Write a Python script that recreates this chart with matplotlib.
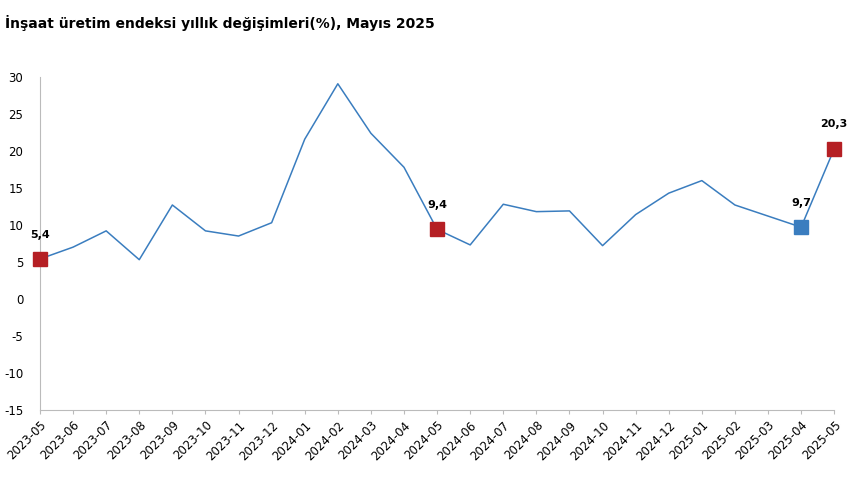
import matplotlib
matplotlib.use("Agg")
import matplotlib.pyplot as plt
plt.rcParams["axes.unicode_minus"] = False

months = ["2023-05","2023-06","2023-07","2023-08","2023-09","2023-10","2023-11","2023-12",
          "2024-01","2024-02","2024-03","2024-04","2024-05","2024-06","2024-07","2024-08",
          "2024-09","2024-10","2024-11","2024-12","2025-01","2025-02","2025-03","2025-04","2025-05"]
values = [5.4,7.0,9.2,5.3,12.7,9.2,8.5,10.3,21.6,29.1,22.4,17.8,9.4,7.3,12.8,11.8,
          11.9,7.2,11.4,14.3,16.0,12.7,11.2,9.7,20.3]
highlight = {"2023-05":"#b51f24","2024-05":"#b51f24","2025-04":"#3a7dbf","2025-05":"#b51f24"}
yticks = [-15,-10,-5,0,5,10,15,20,25,30]

fig = plt.figure(figsize=(8.6,5.04), dpi=100)
ax = fig.add_axes([0.0465,0.187,0.9235,0.66])
x = list(range(len(months)))
ax.plot(x, values, color="#3a7dbf", lw=1.1)
for i,m in enumerate(months):
    if m in highlight:
        ax.plot(i, values[i], marker="s", ms=10, color=highlight[m], zorder=3, clip_on=False)
        ax.annotate(f"{values[i]:.1f}".replace(".",","), (i, values[i]), xytext=(0,14),
                    textcoords="offset points", ha="center", va="bottom",
                    fontsize=8, fontweight="bold")
ax.set_xlim(0, len(months)-1)
ax.set_ylim(-15,30)
ax.set_yticks(yticks)
ax.set_xticks(x)
ax.set_xticklabels(months, rotation=45, ha="right", rotation_mode="anchor", fontsize=8.5)
ax.tick_params(axis="y", labelsize=8.5, length=0, pad=12)
ax.tick_params(axis="x", length=3, color="#bbbbbb")
for s in ["top","right"]:
    ax.spines[s].set_visible(False)
ax.spines["left"].set_color("#bbbbbb")
ax.spines["bottom"].set_color("#bbbbbb")
fig.text(0.006,0.955,"İnşaat üretim endeksi yıllık değişimleri(%), Mayıs 2025",
         fontsize=10, fontweight="bold", va="center", ha="left")
fig.savefig("out.png", dpi=100)
